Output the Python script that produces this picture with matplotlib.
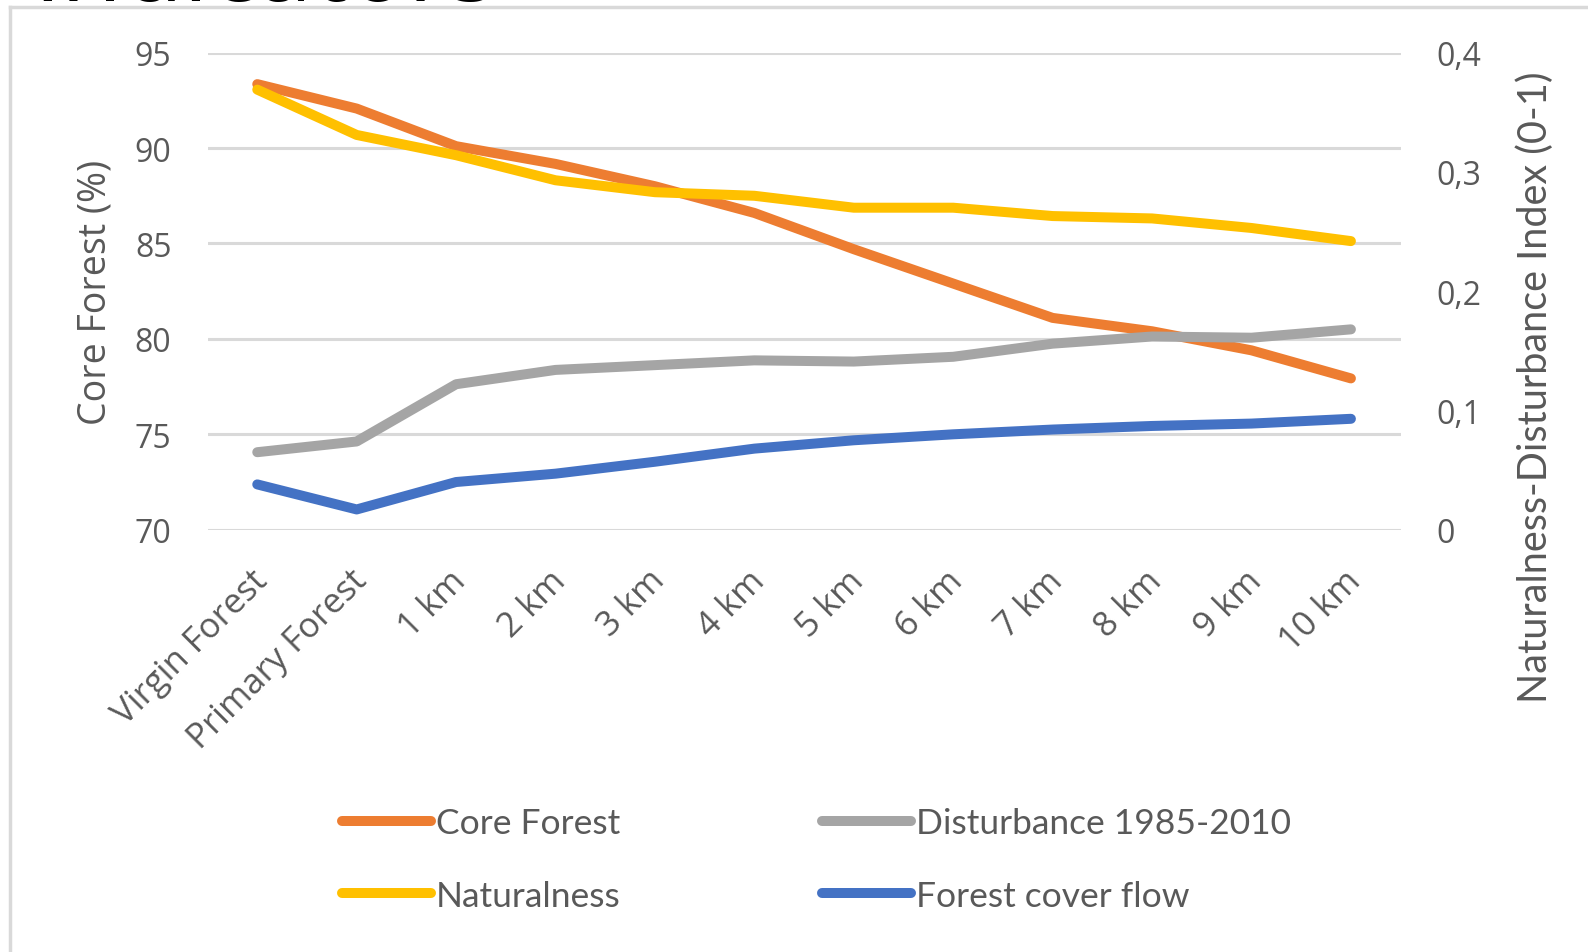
import matplotlib
matplotlib.use("Agg")
import matplotlib.pyplot as plt
import matplotlib.transforms as mtransforms
from matplotlib.lines import Line2D
from matplotlib.ticker import FuncFormatter, MultipleLocator

# distance classes along the x axis
categories = ["Virgin Forest", "Primary Forest", "1 km", "2 km", "3 km", "4 km",
              "5 km", "6 km", "7 km", "8 km", "9 km", "10 km"]

# left axis, %
core_forest = [93.35, 92.07, 90.1, 89.17, 88.0, 86.6, 84.7, 82.9, 81.1, 80.4, 79.4, 77.93]

# right axis, index 0-1
disturbance = [0.065, 0.074, 0.122, 0.134, 0.138, 0.142, 0.141, 0.145, 0.156, 0.162, 0.161, 0.168]
naturalness = [0.369, 0.331, 0.314, 0.293, 0.283, 0.280, 0.270, 0.270, 0.263, 0.261, 0.253, 0.242]
forest_cover_flow = [0.038, 0.017, 0.040, 0.047, 0.057, 0.068, 0.075, 0.080, 0.084, 0.087, 0.089, 0.093]

ORANGE = "#ED7D31"
GREY = "#A5A5A5"
YELLOW = "#FFC000"
BLUE = "#4472C4"
TEXT = "#595959"
GRID = "#D9D9D9"

SEGOE = ["Open Sans", "DejaVu Sans"]
NARROW = ["Lato", "DejaVu Sans"]

LW = 7.2
line_kw = dict(lw=LW, solid_capstyle="round", solid_joinstyle="round")

fig = plt.figure(figsize=(15.88, 9.53), dpi=100)
ax = fig.add_axes([0.1307, 0.4431, 0.7513, 0.5006])
ax2 = ax.twinx()

x = list(range(len(categories)))

ax.plot(x, core_forest, color=ORANGE, label="Core Forest", **line_kw)
ax2.plot(x, naturalness, color=YELLOW, label="Naturalness", **line_kw)
ax2.plot(x, disturbance, color=GREY, label="Disturbance 1985-2010", **line_kw)
ax2.plot(x, forest_cover_flow, color=BLUE, label="Forest cover flow", **line_kw)

ax.set_xlim(-0.5, len(categories) - 0.5)
ax.set_ylim(70, 95)
ax2.set_ylim(0, 0.4)
ax.yaxis.set_major_locator(MultipleLocator(5))
ax2.yaxis.set_major_locator(MultipleLocator(0.1))
ax2.yaxis.set_major_formatter(
    FuncFormatter(lambda v, _: "0" if abs(v) < 1e-9 else f"{v:.1f}".replace(".", ",")))

ax.grid(axis="y", color=GRID, lw=2.2)
ax.set_axisbelow(True)
for a in (ax, ax2):
    for s in a.spines.values():
        s.set_visible(False)
    a.tick_params(length=0, colors=TEXT, labelsize=23)

ax.tick_params(axis="y", pad=26)
ax2.tick_params(axis="y", pad=26)
for lab in ax.get_yticklabels() + ax2.get_yticklabels():
    lab.set_family(SEGOE)

ax.set_xticks(x)
ax.set_xticklabels(categories, rotation=45, ha="right", va="top",
                   rotation_mode="anchor", family=SEGOE, fontsize=25)
ax.tick_params(axis="x", pad=24)
shift = mtransforms.ScaledTranslation(-7 / 100, 0, fig.dpi_scale_trans)
for lab in ax.get_xticklabels():
    lab.set_transform(lab.get_transform() + shift)

ax.set_ylabel("Core Forest (%)", color=TEXT, fontsize=27, family=SEGOE)
ax.yaxis.set_label_coords(-0.078, 0.5)
ax2.set_ylabel("Naturalness-Disturbance Index (0-1)", color=TEXT, fontsize=28.5,
               family=NARROW, rotation=90)
ax2.yaxis.set_label_coords(1.0967, 0.301)

# row-wise order in two columns: left column first, then right column
handles = [
    Line2D([], [], color=ORANGE, **line_kw),
    Line2D([], [], color=YELLOW, **line_kw),
    Line2D([], [], color=GREY, **line_kw),
    Line2D([], [], color=BLUE, **line_kw),
]
labels = ["Core Forest", "Naturalness", "Disturbance 1985-2010", "Forest cover flow"]
leg = fig.legend(handles, labels, ncol=2, loc="upper left",
                 bbox_to_anchor=(342 / 1588, 1 - 808 / 953), frameon=False,
                 borderpad=0, borderaxespad=0, handlelength=2.5, handletextpad=0.15,
                 columnspacing=5.7, labelspacing=1.15,
                 prop={"family": NARROW, "size": 25.5})
for t in leg.get_texts():
    t.set_color(TEXT)

# light frame of the chart area and the clipped slide heading above it
fig.add_artist(Line2D([10 / 1588, 1], [1 - 8 / 953, 1 - 8 / 953],
                      transform=fig.transFigure, color=GRID, lw=2.5))
fig.add_artist(Line2D([10 / 1588, 10 / 1588], [0, 1 - 8 / 953],
                      transform=fig.transFigure, color=GRID, lw=2.5))
fig.text(33 / 1588, 1 - 1 / 953, "Indicators", fontsize=72, color="black",
         family=["Open Sans", "DejaVu Sans"], va="baseline", ha="left")

fig.savefig("out.png", dpi=100, facecolor="white")
